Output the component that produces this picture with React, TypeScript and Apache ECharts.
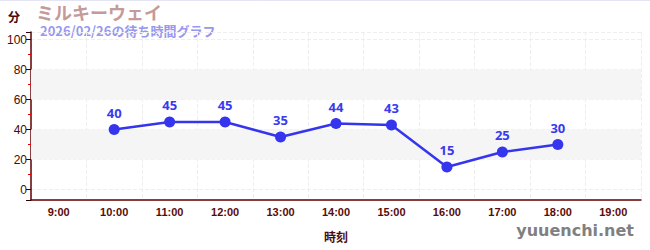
import React, { useEffect, useRef } from "react";
import * as echarts from "echarts";

const TITLE = "ミルキーウェイ";
const SUBTITLE = "2026/02/26の待ち時間グラフ";
const hours = ["9:00", "10:00", "11:00", "12:00", "13:00", "14:00", "15:00", "16:00", "17:00", "18:00", "19:00"];
const waits: (number | null)[] = [null, 40, 45, 45, 35, 44, 43, 15, 25, 30, null];
const bands: [number, number][] = [[20, 40], [60, 80]];
const yMin = -7;
const yMax = 105;

const CJK = "'Noto Sans CJK JP', 'Noto Sans', sans-serif";

export default function App() {
  const ref = useRef<HTMLDivElement>(null);
  useEffect(() => {
    if (!ref.current) return;
    const chart = echarts.init(ref.current, null, { renderer: "svg" });
    chart.setOption({
      animation: false,
      backgroundColor: "#fff",
      grid: { left: 31, right: 9, top: 32, bottom: 50 },
      graphic: [
        { type: "line", shape: { x1: 0, y1: 0.5, x2: 650, y2: 0.5 }, style: { stroke: "#e4e4f4", lineWidth: 1 } },
        { type: "text", left: 36, top: 3, style: { text: TITLE, fill: "#c49a9a", fontSize: 18, fontWeight: "bold", fontFamily: CJK } },
        { type: "text", left: 40, top: 24, style: { text: SUBTITLE, fill: "#9898f0", fontSize: 13, fontWeight: "bold", fontFamily: CJK } },
        { type: "text", left: 8, top: 10, style: { text: "分", fill: "#4a0a0a", fontSize: 12, fontWeight: "bold", fontFamily: CJK } },
        { type: "text", right: 16, top: 222, style: { text: "yuuenchi.net", fill: "#808080", fontSize: 16, fontWeight: "bold", fontFamily: "'DejaVu Sans', sans-serif" } },
      ],
      xAxis: {
        type: "category",
        data: hours,
        boundaryGap: true,
        name: "時刻",
        nameLocation: "middle",
        nameGap: 30,
        nameTextStyle: { color: "#4a0a0a", fontWeight: "bold", fontSize: 12, fontFamily: CJK },
        axisLine: { onZero: false, lineStyle: { color: "#600000", width: 1.5 } },
        axisTick: { alignWithLabel: true, lineStyle: { color: "#666" }, length: 4 },
        axisLabel: { color: "#5a0a0a", fontWeight: "bold", fontSize: 11, margin: 6, fontFamily: "'Liberation Sans', sans-serif" },
        splitLine: { show: true, lineStyle: { color: "#eee", type: "dashed" } },
      },
      yAxis: {
        type: "value",
        min: yMin,
        max: yMax,
        splitNumber: 5,
        axisLine: { show: true, lineStyle: { color: "#600000", width: 1.5 } },
        axisTick: { show: true, length: 5, lineStyle: { color: "#300" } },
        minorTick: { show: true, splitNumber: 2, length: 3, lineStyle: { color: "#e00000" } },
        axisLabel: {
          color: "#4a0a0a",
          fontSize: 12,
          margin: 4,
          fontFamily: "'Liberation Sans', sans-serif",
          showMinLabel: false,
          showMaxLabel: false,
          formatter: (v: number) => (Math.abs(v % 20) < 1e-6 ? String(v) : ""),
        },
        splitLine: { show: true, lineStyle: { color: "#eee", type: "dashed" } },
      },
      series: [
        {
          type: "line",
          data: waits,
          connectNulls: false,
          symbol: "circle",
          symbolSize: 11,
          lineStyle: { color: "#3535ee", width: 2.5 },
          itemStyle: { color: "#3535ee" },
          label: { show: true, position: "top", color: "#3a3aee", fontWeight: "bold", fontSize: 13, distance: 5, fontFamily: "'Noto Sans', sans-serif" },
          markArea: {
            silent: true,
            itemStyle: { color: "#f5f5f5" },
            data: bands.map(([a, b]) => [{ yAxis: a }, { yAxis: b }]),
          },
          z: 3,
        },
      ],
    });
    return () => chart.dispose();
  }, []);
  return <div ref={ref} style={{ width: 650, height: 250, position: "absolute", left: 0, top: 0 }} />;
}
